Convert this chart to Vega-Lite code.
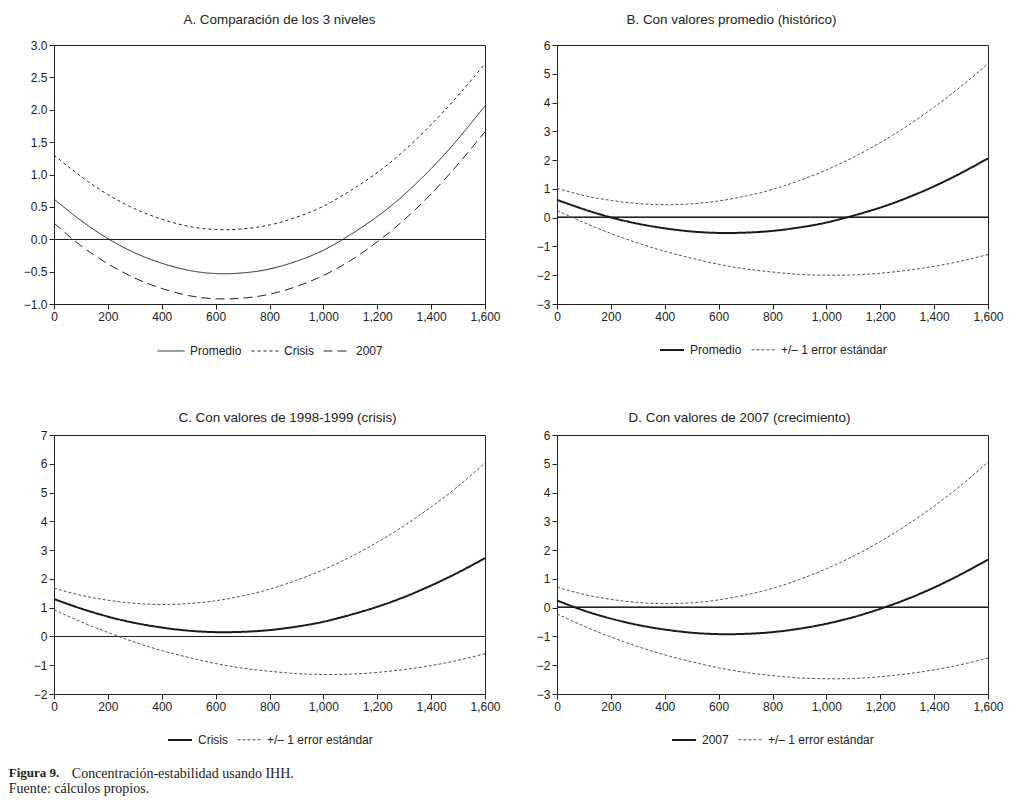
{
  "$schema": "https://vega.github.io/schema/vega-lite/v6.json",
  "background": "white",
  "padding": {"left": 8, "top": 12, "right": 5, "bottom": 0},
  "config": {
    "view": {"stroke": "#222", "strokeWidth": 1},
    "font": "Liberation Sans",
    "axis": {"grid": false, "domainColor": "#222", "tickColor": "#222", "labelColor": "#222", "labelFontSize": 12, "labelFont": "Liberation Sans", "tickSize": 5, "title": null, "labelPadding": 2, "labelFlush": false, "labelOverlap": false, "tickCount": 30},
    "legend": {"orient": "bottom", "direction": "horizontal", "title": null, "labelFontSize": 12, "labelFont": "Liberation Sans", "labelColor": "#222", "symbolType": "stroke", "symbolSize": 576, "columnPadding": 7, "labelOffset": 5, "offset": 15, "layout": {"bottom": {"anchor": "middle"}}},
    "title": {"fontSize": 13.4, "font": "Liberation Sans", "fontWeight": "normal", "color": "#222", "frame": "group"}
  },
  "datasets": {
    "A": [
      {"x": 0, "y": 0.62, "serie": "Promedio"}, {"x": 100, "y": 0.29, "serie": "Promedio"}, {"x": 200, "y": 0.01, "serie": "Promedio"}, {"x": 300, "y": -0.21, "serie": "Promedio"}, {"x": 400, "y": -0.37, "serie": "Promedio"}, {"x": 500, "y": -0.48, "serie": "Promedio"}, {"x": 600, "y": -0.53, "serie": "Promedio"}, {"x": 700, "y": -0.52, "serie": "Promedio"}, {"x": 800, "y": -0.46, "serie": "Promedio"}, {"x": 900, "y": -0.34, "serie": "Promedio"}, {"x": 1000, "y": -0.17, "serie": "Promedio"}, {"x": 1100, "y": 0.07, "serie": "Promedio"}, {"x": 1200, "y": 0.35, "serie": "Promedio"}, {"x": 1300, "y": 0.69, "serie": "Promedio"}, {"x": 1400, "y": 1.09, "serie": "Promedio"}, {"x": 1500, "y": 1.55, "serie": "Promedio"}, {"x": 1600, "y": 2.06, "serie": "Promedio"},
      {"x": 0, "y": 1.30, "serie": "Crisis"}, {"x": 100, "y": 0.97, "serie": "Crisis"}, {"x": 200, "y": 0.69, "serie": "Crisis"}, {"x": 300, "y": 0.47, "serie": "Crisis"}, {"x": 400, "y": 0.31, "serie": "Crisis"}, {"x": 500, "y": 0.20, "serie": "Crisis"}, {"x": 600, "y": 0.15, "serie": "Crisis"}, {"x": 700, "y": 0.16, "serie": "Crisis"}, {"x": 800, "y": 0.22, "serie": "Crisis"}, {"x": 900, "y": 0.34, "serie": "Crisis"}, {"x": 1000, "y": 0.51, "serie": "Crisis"}, {"x": 1100, "y": 0.75, "serie": "Crisis"}, {"x": 1200, "y": 1.03, "serie": "Crisis"}, {"x": 1300, "y": 1.37, "serie": "Crisis"}, {"x": 1400, "y": 1.77, "serie": "Crisis"}, {"x": 1500, "y": 2.22, "serie": "Crisis"}, {"x": 1600, "y": 2.71, "serie": "Crisis"},
      {"x": 0, "y": 0.25, "serie": "2007"}, {"x": 100, "y": -0.10, "serie": "2007"}, {"x": 200, "y": -0.38, "serie": "2007"}, {"x": 300, "y": -0.60, "serie": "2007"}, {"x": 400, "y": -0.76, "serie": "2007"}, {"x": 500, "y": -0.87, "serie": "2007"}, {"x": 600, "y": -0.92, "serie": "2007"}, {"x": 700, "y": -0.91, "serie": "2007"}, {"x": 800, "y": -0.85, "serie": "2007"}, {"x": 900, "y": -0.73, "serie": "2007"}, {"x": 1000, "y": -0.56, "serie": "2007"}, {"x": 1100, "y": -0.33, "serie": "2007"}, {"x": 1200, "y": -0.04, "serie": "2007"}, {"x": 1300, "y": 0.30, "serie": "2007"}, {"x": 1400, "y": 0.70, "serie": "2007"}, {"x": 1500, "y": 1.16, "serie": "2007"}, {"x": 1600, "y": 1.66, "serie": "2007"}
    ],
    "B": [
      {"x": 0, "y": 0.62, "serie": "Promedio", "banda": "centro"}, {"x": 100, "y": 0.29, "serie": "Promedio", "banda": "centro"}, {"x": 200, "y": 0.01, "serie": "Promedio", "banda": "centro"}, {"x": 300, "y": -0.21, "serie": "Promedio", "banda": "centro"}, {"x": 400, "y": -0.37, "serie": "Promedio", "banda": "centro"}, {"x": 500, "y": -0.48, "serie": "Promedio", "banda": "centro"}, {"x": 600, "y": -0.53, "serie": "Promedio", "banda": "centro"}, {"x": 700, "y": -0.52, "serie": "Promedio", "banda": "centro"}, {"x": 800, "y": -0.46, "serie": "Promedio", "banda": "centro"}, {"x": 900, "y": -0.34, "serie": "Promedio", "banda": "centro"}, {"x": 1000, "y": -0.17, "serie": "Promedio", "banda": "centro"}, {"x": 1100, "y": 0.07, "serie": "Promedio", "banda": "centro"}, {"x": 1200, "y": 0.35, "serie": "Promedio", "banda": "centro"}, {"x": 1300, "y": 0.69, "serie": "Promedio", "banda": "centro"}, {"x": 1400, "y": 1.09, "serie": "Promedio", "banda": "centro"}, {"x": 1500, "y": 1.55, "serie": "Promedio", "banda": "centro"}, {"x": 1600, "y": 2.06, "serie": "Promedio", "banda": "centro"},
      {"x": 0, "y": 1.02, "serie": "+/– 1 error estándar", "banda": "sup"}, {"x": 100, "y": 0.77, "serie": "+/– 1 error estándar", "banda": "sup"}, {"x": 200, "y": 0.60, "serie": "+/– 1 error estándar", "banda": "sup"}, {"x": 300, "y": 0.49, "serie": "+/– 1 error estándar", "banda": "sup"}, {"x": 400, "y": 0.45, "serie": "+/– 1 error estándar", "banda": "sup"}, {"x": 500, "y": 0.48, "serie": "+/– 1 error estándar", "banda": "sup"}, {"x": 600, "y": 0.58, "serie": "+/– 1 error estándar", "banda": "sup"}, {"x": 700, "y": 0.75, "serie": "+/– 1 error estándar", "banda": "sup"}, {"x": 800, "y": 0.98, "serie": "+/– 1 error estándar", "banda": "sup"}, {"x": 900, "y": 1.29, "serie": "+/– 1 error estándar", "banda": "sup"}, {"x": 1000, "y": 1.66, "serie": "+/– 1 error estándar", "banda": "sup"}, {"x": 1100, "y": 2.10, "serie": "+/– 1 error estándar", "banda": "sup"}, {"x": 1200, "y": 2.61, "serie": "+/– 1 error estándar", "banda": "sup"}, {"x": 1300, "y": 3.19, "serie": "+/– 1 error estándar", "banda": "sup"}, {"x": 1400, "y": 3.84, "serie": "+/– 1 error estándar", "banda": "sup"}, {"x": 1500, "y": 4.56, "serie": "+/– 1 error estándar", "banda": "sup"}, {"x": 1600, "y": 5.35, "serie": "+/– 1 error estándar", "banda": "sup"},
      {"x": 0, "y": 0.25, "serie": "+/– 1 error estándar", "banda": "inf"}, {"x": 100, "y": -0.17, "serie": "+/– 1 error estándar", "banda": "inf"}, {"x": 200, "y": -0.55, "serie": "+/– 1 error estándar", "banda": "inf"}, {"x": 300, "y": -0.88, "serie": "+/– 1 error estándar", "banda": "inf"}, {"x": 400, "y": -1.17, "serie": "+/– 1 error estándar", "banda": "inf"}, {"x": 500, "y": -1.41, "serie": "+/– 1 error estándar", "banda": "inf"}, {"x": 600, "y": -1.62, "serie": "+/– 1 error estándar", "banda": "inf"}, {"x": 700, "y": -1.78, "serie": "+/– 1 error estándar", "banda": "inf"}, {"x": 800, "y": -1.89, "serie": "+/– 1 error estándar", "banda": "inf"}, {"x": 900, "y": -1.97, "serie": "+/– 1 error estándar", "banda": "inf"}, {"x": 1000, "y": -2.00, "serie": "+/– 1 error estándar", "banda": "inf"}, {"x": 1100, "y": -1.99, "serie": "+/– 1 error estándar", "banda": "inf"}, {"x": 1200, "y": -1.93, "serie": "+/– 1 error estándar", "banda": "inf"}, {"x": 1300, "y": -1.83, "serie": "+/– 1 error estándar", "banda": "inf"}, {"x": 1400, "y": -1.69, "serie": "+/– 1 error estándar", "banda": "inf"}, {"x": 1500, "y": -1.51, "serie": "+/– 1 error estándar", "banda": "inf"}, {"x": 1600, "y": -1.28, "serie": "+/– 1 error estándar", "banda": "inf"}
    ],
    "C": [
      {"x": 0, "y": 1.30, "serie": "Crisis", "banda": "centro"}, {"x": 100, "y": 0.97, "serie": "Crisis", "banda": "centro"}, {"x": 200, "y": 0.69, "serie": "Crisis", "banda": "centro"}, {"x": 300, "y": 0.47, "serie": "Crisis", "banda": "centro"}, {"x": 400, "y": 0.31, "serie": "Crisis", "banda": "centro"}, {"x": 500, "y": 0.20, "serie": "Crisis", "banda": "centro"}, {"x": 600, "y": 0.15, "serie": "Crisis", "banda": "centro"}, {"x": 700, "y": 0.16, "serie": "Crisis", "banda": "centro"}, {"x": 800, "y": 0.22, "serie": "Crisis", "banda": "centro"}, {"x": 900, "y": 0.34, "serie": "Crisis", "banda": "centro"}, {"x": 1000, "y": 0.51, "serie": "Crisis", "banda": "centro"}, {"x": 1100, "y": 0.75, "serie": "Crisis", "banda": "centro"}, {"x": 1200, "y": 1.03, "serie": "Crisis", "banda": "centro"}, {"x": 1300, "y": 1.37, "serie": "Crisis", "banda": "centro"}, {"x": 1400, "y": 1.77, "serie": "Crisis", "banda": "centro"}, {"x": 1500, "y": 2.22, "serie": "Crisis", "banda": "centro"}, {"x": 1600, "y": 2.72, "serie": "Crisis", "banda": "centro"},
      {"x": 0, "y": 1.68, "serie": "+/– 1 error estándar", "banda": "sup"}, {"x": 100, "y": 1.43, "serie": "+/– 1 error estándar", "banda": "sup"}, {"x": 200, "y": 1.26, "serie": "+/– 1 error estándar", "banda": "sup"}, {"x": 300, "y": 1.15, "serie": "+/– 1 error estándar", "banda": "sup"}, {"x": 400, "y": 1.11, "serie": "+/– 1 error estándar", "banda": "sup"}, {"x": 500, "y": 1.14, "serie": "+/– 1 error estándar", "banda": "sup"}, {"x": 600, "y": 1.24, "serie": "+/– 1 error estándar", "banda": "sup"}, {"x": 700, "y": 1.41, "serie": "+/– 1 error estándar", "banda": "sup"}, {"x": 800, "y": 1.64, "serie": "+/– 1 error estándar", "banda": "sup"}, {"x": 900, "y": 1.95, "serie": "+/– 1 error estándar", "banda": "sup"}, {"x": 1000, "y": 2.32, "serie": "+/– 1 error estándar", "banda": "sup"}, {"x": 1100, "y": 2.76, "serie": "+/– 1 error estándar", "banda": "sup"}, {"x": 1200, "y": 3.27, "serie": "+/– 1 error estándar", "banda": "sup"}, {"x": 1300, "y": 3.85, "serie": "+/– 1 error estándar", "banda": "sup"}, {"x": 1400, "y": 4.50, "serie": "+/– 1 error estándar", "banda": "sup"}, {"x": 1500, "y": 5.22, "serie": "+/– 1 error estándar", "banda": "sup"}, {"x": 1600, "y": 6.03, "serie": "+/– 1 error estándar", "banda": "sup"},
      {"x": 0, "y": 0.93, "serie": "+/– 1 error estándar", "banda": "inf"}, {"x": 100, "y": 0.51, "serie": "+/– 1 error estándar", "banda": "inf"}, {"x": 200, "y": 0.14, "serie": "+/– 1 error estándar", "banda": "inf"}, {"x": 300, "y": -0.20, "serie": "+/– 1 error estándar", "banda": "inf"}, {"x": 400, "y": -0.49, "serie": "+/– 1 error estándar", "banda": "inf"}, {"x": 500, "y": -0.73, "serie": "+/– 1 error estándar", "banda": "inf"}, {"x": 600, "y": -0.94, "serie": "+/– 1 error estándar", "banda": "inf"}, {"x": 700, "y": -1.10, "serie": "+/– 1 error estándar", "banda": "inf"}, {"x": 800, "y": -1.21, "serie": "+/– 1 error estándar", "banda": "inf"}, {"x": 900, "y": -1.29, "serie": "+/– 1 error estándar", "banda": "inf"}, {"x": 1000, "y": -1.32, "serie": "+/– 1 error estándar", "banda": "inf"}, {"x": 1100, "y": -1.31, "serie": "+/– 1 error estándar", "banda": "inf"}, {"x": 1200, "y": -1.25, "serie": "+/– 1 error estándar", "banda": "inf"}, {"x": 1300, "y": -1.15, "serie": "+/– 1 error estándar", "banda": "inf"}, {"x": 1400, "y": -1.01, "serie": "+/– 1 error estándar", "banda": "inf"}, {"x": 1500, "y": -0.83, "serie": "+/– 1 error estándar", "banda": "inf"}, {"x": 1600, "y": -0.60, "serie": "+/– 1 error estándar", "banda": "inf"}
    ],
    "D": [
      {"x": 0, "y": 0.25, "serie": "2007", "banda": "centro"}, {"x": 100, "y": -0.10, "serie": "2007", "banda": "centro"}, {"x": 200, "y": -0.38, "serie": "2007", "banda": "centro"}, {"x": 300, "y": -0.60, "serie": "2007", "banda": "centro"}, {"x": 400, "y": -0.76, "serie": "2007", "banda": "centro"}, {"x": 500, "y": -0.87, "serie": "2007", "banda": "centro"}, {"x": 600, "y": -0.92, "serie": "2007", "banda": "centro"}, {"x": 700, "y": -0.91, "serie": "2007", "banda": "centro"}, {"x": 800, "y": -0.85, "serie": "2007", "banda": "centro"}, {"x": 900, "y": -0.73, "serie": "2007", "banda": "centro"}, {"x": 1000, "y": -0.56, "serie": "2007", "banda": "centro"}, {"x": 1100, "y": -0.33, "serie": "2007", "banda": "centro"}, {"x": 1200, "y": -0.04, "serie": "2007", "banda": "centro"}, {"x": 1300, "y": 0.30, "serie": "2007", "banda": "centro"}, {"x": 1400, "y": 0.70, "serie": "2007", "banda": "centro"}, {"x": 1500, "y": 1.16, "serie": "2007", "banda": "centro"}, {"x": 1600, "y": 1.67, "serie": "2007", "banda": "centro"},
      {"x": 0, "y": 0.71, "serie": "+/– 1 error estándar", "banda": "sup"}, {"x": 100, "y": 0.46, "serie": "+/– 1 error estándar", "banda": "sup"}, {"x": 200, "y": 0.29, "serie": "+/– 1 error estándar", "banda": "sup"}, {"x": 300, "y": 0.18, "serie": "+/– 1 error estándar", "banda": "sup"}, {"x": 400, "y": 0.14, "serie": "+/– 1 error estándar", "banda": "sup"}, {"x": 500, "y": 0.17, "serie": "+/– 1 error estándar", "banda": "sup"}, {"x": 600, "y": 0.27, "serie": "+/– 1 error estándar", "banda": "sup"}, {"x": 700, "y": 0.44, "serie": "+/– 1 error estándar", "banda": "sup"}, {"x": 800, "y": 0.67, "serie": "+/– 1 error estándar", "banda": "sup"}, {"x": 900, "y": 0.98, "serie": "+/– 1 error estándar", "banda": "sup"}, {"x": 1000, "y": 1.35, "serie": "+/– 1 error estándar", "banda": "sup"}, {"x": 1100, "y": 1.79, "serie": "+/– 1 error estándar", "banda": "sup"}, {"x": 1200, "y": 2.30, "serie": "+/– 1 error estándar", "banda": "sup"}, {"x": 1300, "y": 2.88, "serie": "+/– 1 error estándar", "banda": "sup"}, {"x": 1400, "y": 3.53, "serie": "+/– 1 error estándar", "banda": "sup"}, {"x": 1500, "y": 4.25, "serie": "+/– 1 error estándar", "banda": "sup"}, {"x": 1600, "y": 5.06, "serie": "+/– 1 error estándar", "banda": "sup"},
      {"x": 0, "y": -0.22, "serie": "+/– 1 error estándar", "banda": "inf"}, {"x": 100, "y": -0.64, "serie": "+/– 1 error estándar", "banda": "inf"}, {"x": 200, "y": -1.02, "serie": "+/– 1 error estándar", "banda": "inf"}, {"x": 300, "y": -1.35, "serie": "+/– 1 error estándar", "banda": "inf"}, {"x": 400, "y": -1.64, "serie": "+/– 1 error estándar", "banda": "inf"}, {"x": 500, "y": -1.88, "serie": "+/– 1 error estándar", "banda": "inf"}, {"x": 600, "y": -2.09, "serie": "+/– 1 error estándar", "banda": "inf"}, {"x": 700, "y": -2.25, "serie": "+/– 1 error estándar", "banda": "inf"}, {"x": 800, "y": -2.36, "serie": "+/– 1 error estándar", "banda": "inf"}, {"x": 900, "y": -2.44, "serie": "+/– 1 error estándar", "banda": "inf"}, {"x": 1000, "y": -2.47, "serie": "+/– 1 error estándar", "banda": "inf"}, {"x": 1100, "y": -2.46, "serie": "+/– 1 error estándar", "banda": "inf"}, {"x": 1200, "y": -2.40, "serie": "+/– 1 error estándar", "banda": "inf"}, {"x": 1300, "y": -2.30, "serie": "+/– 1 error estándar", "banda": "inf"}, {"x": 1400, "y": -2.16, "serie": "+/– 1 error estándar", "banda": "inf"}, {"x": 1500, "y": -1.98, "serie": "+/– 1 error estándar", "banda": "inf"}, {"x": 1600, "y": -1.75, "serie": "+/– 1 error estándar", "banda": "inf"}
    ]
  },
  "vconcat": [
    {
      "title": {"text": "Figura 9.", "subtitle": "Fuente: cálculos propios.", "orient": "bottom", "anchor": "start", "frame": "bounds", "dx": -14, "font": "Liberation Serif", "fontSize": 13, "fontWeight": "bold", "color": "#222", "subtitleFont": "Liberation Serif", "subtitleFontSize": 14, "subtitleColor": "#222", "subtitlePadding": 2, "offset": 20},
      "columns": 2,
      "spacing": {"row": 131, "column": 72},
      "bounds": "flush",
      "resolve": {"scale": {"x": "independent", "y": "independent", "strokeDash": "independent", "strokeWidth": "independent", "color": "independent"}, "legend": {"strokeDash": "independent", "strokeWidth": "independent", "color": "independent"}},
      "concat": [
        {
          "width": 431, "height": 259,
          "title": {"text": "A. Comparación de los 3 niveles", "dx": 10, "offset": 13},
          "data": {"name": "A"},
          "layer": [
            {"mark": {"type": "rule", "color": "#222", "strokeWidth": 0.9, "yOffset": 0.25}, "encoding": {"y": {"datum": 0}}},
            {"mark": {"type": "line", "interpolate": "natural", "color": "#222", "strokeWidth": 1},
             "encoding": {
               "x": {"field": "x", "type": "quantitative", "scale": {"domain": [0, 1600], "nice": false}, "axis": {"values": [0, 200, 400, 600, 800, 1000, 1200, 1400, 1600], "format": ",.0f"}},
               "y": {"field": "y", "type": "quantitative", "scale": {"domain": [-1, 3], "nice": false, "zero": false}, "axis": {"values": [-1, -0.5, 0, 0.5, 1, 1.5, 2, 2.5, 3], "format": ".1f"}},
               "strokeDash": {"field": "serie", "type": "nominal", "scale": {"domain": ["Promedio", "Crisis", "2007"], "range": [[1, 0], [3, 3], [9, 5]]}, "legend": {"symbolSize": 729, "symbolStrokeColor": "#222", "symbolStrokeWidth": 1}}
             }}
          ]
        },
        {
          "width": 431, "height": 259,
          "title": {"text": "B. Con valores promedio (histórico)", "dx": -41, "offset": 13},
          "data": {"name": "B"},
          "layer": [
            {"mark": {"type": "rule", "color": "#222", "strokeWidth": 0.9, "yOffset": -0.17}, "encoding": {"y": {"datum": 0}}},
            {"mark": {"type": "line", "interpolate": "natural"},
             "encoding": {
               "x": {"field": "x", "type": "quantitative", "scale": {"domain": [0, 1600], "nice": false}, "axis": {"values": [0, 200, 400, 600, 800, 1000, 1200, 1400, 1600], "format": ",.0f"}},
               "y": {"field": "y", "type": "quantitative", "scale": {"domain": [-3, 6], "nice": false, "zero": false}, "axis": {"values": [-3, -2, -1, 0, 1, 2, 3, 4, 5, 6], "format": "d"}},
               "detail": {"field": "banda"},
               "strokeDash": {"field": "serie", "type": "nominal", "scale": {"domain": ["Promedio", "+/– 1 error estándar"], "range": [[1, 0], [3, 2]]}},
               "strokeWidth": {"field": "serie", "type": "nominal", "scale": {"domain": ["Promedio", "+/– 1 error estándar"], "range": [2, 1]}},
               "color": {"field": "serie", "type": "nominal", "scale": {"domain": ["Promedio", "+/– 1 error estándar"], "range": ["#1a1a1a", "#555555"]}}
             }}
          ]
        },
        {
          "width": 431, "height": 259,
          "title": {"text": "C. Con valores de 1998-1999 (crisis)", "dx": 18, "offset": 5},
          "data": {"name": "C"},
          "layer": [
            {"mark": {"type": "rule", "color": "#222", "strokeWidth": 0.9, "yOffset": 0.06}, "encoding": {"y": {"datum": 0}}},
            {"mark": {"type": "line", "interpolate": "natural"},
             "encoding": {
               "x": {"field": "x", "type": "quantitative", "scale": {"domain": [0, 1600], "nice": false}, "axis": {"values": [0, 200, 400, 600, 800, 1000, 1200, 1400, 1600], "format": ",.0f"}},
               "y": {"field": "y", "type": "quantitative", "scale": {"domain": [-2, 7], "nice": false, "zero": false}, "axis": {"values": [-2, -1, 0, 1, 2, 3, 4, 5, 6, 7], "format": "d"}},
               "detail": {"field": "banda"},
               "strokeDash": {"field": "serie", "type": "nominal", "scale": {"domain": ["Crisis", "+/– 1 error estándar"], "range": [[1, 0], [3, 2]]}},
               "strokeWidth": {"field": "serie", "type": "nominal", "scale": {"domain": ["Crisis", "+/– 1 error estándar"], "range": [2, 1]}},
               "color": {"field": "serie", "type": "nominal", "scale": {"domain": ["Crisis", "+/– 1 error estándar"], "range": ["#1a1a1a", "#555555"]}}
             }}
          ]
        },
        {
          "width": 431, "height": 259,
          "title": {"text": "D. Con valores de 2007 (crecimiento)", "dx": -33, "offset": 5},
          "data": {"name": "D"},
          "layer": [
            {"mark": {"type": "rule", "color": "#222", "strokeWidth": 0.9, "yOffset": -0.17}, "encoding": {"y": {"datum": 0}}},
            {"mark": {"type": "line", "interpolate": "natural"},
             "encoding": {
               "x": {"field": "x", "type": "quantitative", "scale": {"domain": [0, 1600], "nice": false}, "axis": {"values": [0, 200, 400, 600, 800, 1000, 1200, 1400, 1600], "format": ",.0f"}},
               "y": {"field": "y", "type": "quantitative", "scale": {"domain": [-3, 6], "nice": false, "zero": false}, "axis": {"values": [-3, -2, -1, 0, 1, 2, 3, 4, 5, 6], "format": "d"}},
               "detail": {"field": "banda"},
               "strokeDash": {"field": "serie", "type": "nominal", "scale": {"domain": ["2007", "+/– 1 error estándar"], "range": [[1, 0], [3, 2]]}},
               "strokeWidth": {"field": "serie", "type": "nominal", "scale": {"domain": ["2007", "+/– 1 error estándar"], "range": [2, 1]}},
               "color": {"field": "serie", "type": "nominal", "scale": {"domain": ["2007", "+/– 1 error estándar"], "range": ["#1a1a1a", "#555555"]}}
             }}
          ]
        }
      ]
    }
  ],
  "title": {"text": "Concentración-estabilidad usando IHH.", "orient": "bottom", "anchor": "start", "frame": "bounds", "font": "Liberation Serif", "fontSize": 14, "fontWeight": "normal", "color": "#222", "dx": 63, "offset": -29},
  "resolve": {"scale": {"x": "independent", "y": "independent", "strokeDash": "independent", "strokeWidth": "independent", "color": "independent"}, "legend": {"strokeDash": "independent", "strokeWidth": "independent", "color": "independent"}}
}
